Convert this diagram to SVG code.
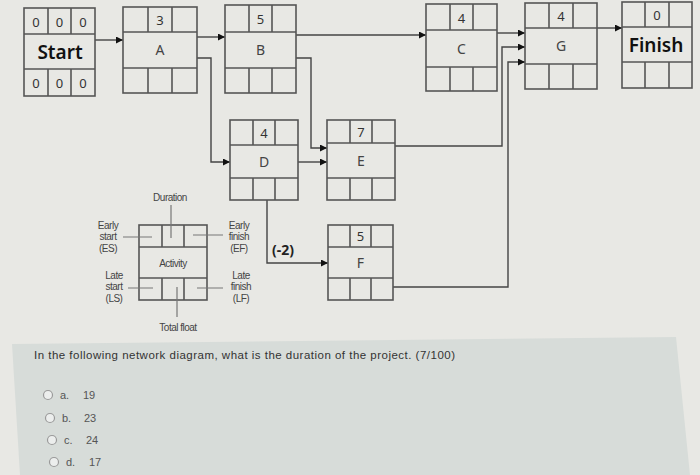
<svg xmlns="http://www.w3.org/2000/svg" width="700" height="475" viewBox="0 0 700 475">
<defs>
<marker id="ah" viewBox="0 0 10 10" refX="10" refY="5" markerWidth="9" markerHeight="7" markerUnits="userSpaceOnUse" orient="auto">
<path d="M0,0 L10,5 L0,10 z" fill="#111"/>
</marker>
<style>
.bx{fill:none;stroke:#555;stroke-width:1.6}
.cn{fill:none;stroke:#444;stroke-width:1.4;marker-end:url(#ah)}
.ld{fill:none;stroke:#777;stroke-width:1.2}
.num{font-family:"Noto Sans","DejaVu Sans",sans-serif;font-size:13px;fill:#333;text-anchor:middle}
.let{font-family:"Noto Sans","DejaVu Sans",sans-serif;font-size:14px;fill:#444;text-anchor:middle}
.big{font-family:"Noto Sans","DejaVu Sans",sans-serif;font-size:19px;font-weight:600;fill:#111;text-anchor:middle}
.lg{font-family:"Liberation Sans",Arial,sans-serif;font-size:10px;fill:#444;text-anchor:middle;letter-spacing:-0.5px}
.q{font-family:"Liberation Sans",Arial,sans-serif;font-size:11.5px;fill:#333}
.op{font-family:"Liberation Sans",Arial,sans-serif;font-size:11px;fill:#555}
.rd{fill:#eceeed;stroke:#9a9a9a;stroke-width:1.2}
</style>
</defs>
<rect width="700" height="475" fill="#e8e8e4"/>
<polygon points="12,344 676,337 690,475 20,475" fill="#d7dcd9"/>

<g id="connectors">
<path class="cn" d="M95,40 H123"/>
<path class="cn" d="M197,37 H225"/>
<path class="cn" d="M197,58 H211 V162 H230"/>
<path class="cn" d="M296,58 H311 V148 H327"/>
<path class="cn" d="M296,35 H426"/>
<path class="cn" d="M298,162 H327"/>
<path class="cn" d="M267,200 V263 H328"/>
<path class="cn" d="M497,33 H525"/>
<path class="cn" d="M395,146 H502 V47 H525"/>
<path class="cn" d="M393,287 H508 V62 H525"/>
<path class="cn" d="M597,28 H622"/>
</g>

<g id="node-start">
<rect class="bx" x="24" y="8" width="71" height="88"/>
<path class="bx" d="M24,34 H95 M24,69 H95 M48,8 V34 M71,8 V34 M48,69 V96 M71,69 V96"/>
<text class="num" x="36" y="27">0</text><text class="num" x="59.5" y="27">0</text><text class="num" x="83" y="27">0</text>
<text class="big" x="60" y="59">Start</text>
<text class="num" x="36" y="88">0</text><text class="num" x="59.5" y="88">0</text><text class="num" x="83" y="88">0</text>
</g>

<g id="node-a">
<rect class="bx" x="123" y="7" width="74" height="86"/>
<path class="bx" d="M123,32 H197 M123,68 H197 M148,7 V32 M172,7 V32 M148,68 V93 M172,68 V93"/>
<text class="num" x="160" y="25">3</text>
<text class="let" x="160" y="55">A</text>
</g>

<g id="node-b">
<rect class="bx" x="225" y="5" width="71" height="88"/>
<path class="bx" d="M225,32 H296 M225,68 H296 M249,5 V32 M272,5 V32 M249,68 V93 M272,68 V93"/>
<text class="num" x="260.5" y="24">5</text>
<text class="let" x="260.5" y="55">B</text>
</g>

<g id="node-c">
<rect class="bx" x="426" y="4" width="71" height="87"/>
<path class="bx" d="M426,30 H497 M426,67 H497 M450,4 V30 M473,4 V30 M450,67 V91 M473,67 V91"/>
<text class="num" x="461.5" y="23">4</text>
<text class="let" x="461.5" y="54">C</text>
</g>

<g id="node-g">
<rect class="bx" x="525" y="3" width="72" height="86"/>
<path class="bx" d="M525,28 H597 M525,64 H597 M549,3 V28 M573,3 V28 M549,64 V89 M573,64 V89"/>
<text class="num" x="561" y="21">4</text>
<text class="let" x="561" y="51">G</text>
</g>

<g id="node-finish">
<rect class="bx" x="622" y="2" width="70" height="86"/>
<path class="bx" d="M622,27 H692 M622,62 H692 M645,2 V27 M669,2 V27 M645,62 V88 M669,62 V88"/>
<text class="num" x="657" y="20">0</text>
<text class="big" x="656" y="52">Finish</text>
</g>

<g id="node-d">
<rect class="bx" x="230" y="120" width="68" height="80"/>
<path class="bx" d="M230,145 H298 M230,178 H298 M253,120 V145 M275,120 V145 M253,178 V200 M275,178 V200"/>
<text class="num" x="264" y="138">4</text>
<text class="let" x="264" y="167">D</text>
</g>

<g id="node-e">
<rect class="bx" x="327" y="120" width="68" height="80"/>
<path class="bx" d="M327,143 H395 M327,178 H395 M350,120 V143 M372,120 V143 M350,178 V200 M372,178 V200"/>
<text class="num" x="361" y="137">7</text>
<text class="let" x="361" y="166">E</text>
</g>

<g id="node-f">
<rect class="bx" x="328" y="225" width="65" height="75"/>
<path class="bx" d="M328,247 H393 M328,278 H393 M350,225 V247 M371,225 V247 M350,278 V300 M371,278 V300"/>
<text class="num" x="360.5" y="241">5</text>
<text class="let" x="360.5" y="268">F</text>
</g>

<text x="272" y="255" font-family="'Noto Sans','DejaVu Sans',sans-serif" font-size="14" font-weight="bold" fill="#222">(-2)</text>

<g id="legend">
<rect class="bx" x="139" y="225" width="68" height="75"/>
<path class="bx" d="M139,247 H207 M139,278 H207 M162,225 V247 M184,225 V247 M162,278 V300 M184,278 V300"/>
<path class="ld" d="M171,205 V238 M123,237 H152 M193,235 H223 M128,288 H153 M197,288 H223 M177,287 V317"/>
<text class="lg" x="170" y="201">Duration</text>
<text class="lg" x="173" y="267">Activity</text>
<text class="lg" x="108" y="229">Early</text><text class="lg" x="108" y="240.3">start</text><text class="lg" x="108" y="251.6">(ES)</text>
<text class="lg" x="239" y="229">Early</text><text class="lg" x="239" y="240.3">finish</text><text class="lg" x="239" y="251.6">(EF)</text>
<text class="lg" x="114" y="279">Late</text><text class="lg" x="114" y="290.3">start</text><text class="lg" x="114" y="301.6">(LS)</text>
<text class="lg" x="241" y="279">Late</text><text class="lg" x="241" y="290.3">finish</text><text class="lg" x="241" y="301.6">(LF)</text>
<text class="lg" x="178" y="331">Total float</text>
</g>

<text class="q" x="34" y="359" textLength="421">In the following network diagram, what is the duration of the project. (7/100)</text>
<circle class="rd" cx="48" cy="395" r="4.5"/><text class="op" x="60" y="399">a.</text><text class="op" x="83" y="399">19</text>
<circle class="rd" cx="50" cy="418" r="4.5"/><text class="op" x="62" y="422">b.</text><text class="op" x="84" y="422">23</text>
<circle class="rd" cx="52" cy="440" r="4.5"/><text class="op" x="64" y="444">c.</text><text class="op" x="86" y="444">24</text>
<circle class="rd" cx="54" cy="462" r="4.5"/><text class="op" x="66" y="466">d.</text><text class="op" x="89" y="466">17</text>
</svg>
